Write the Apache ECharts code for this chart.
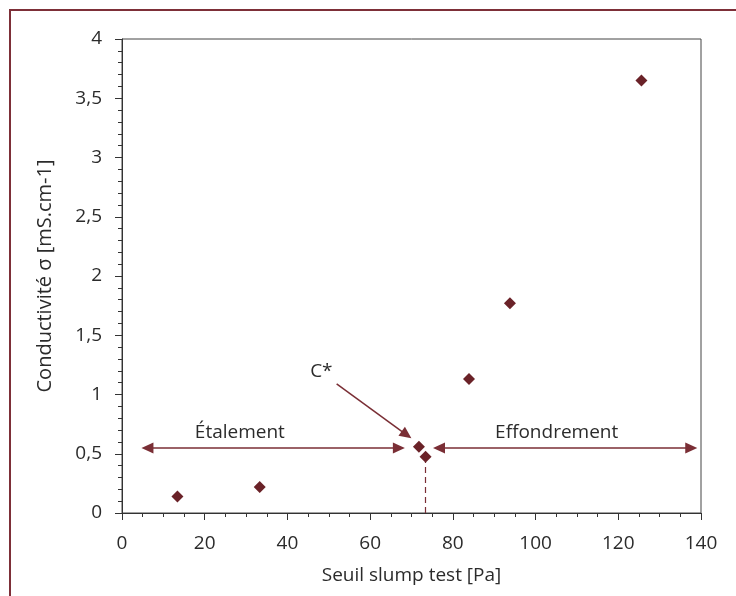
<!DOCTYPE html>
<html>
<head>
<meta charset="utf-8">
<script src="https://cdn.jsdelivr.net/npm/echarts@6/dist/echarts.min.js"></script>
<style>
  html, body { margin: 0; padding: 0; background: #fff; }
  #chart { width: 736px; height: 596px; }
</style>
</head>
<body>
<div id="chart"></div>
<script>
// Data points: Seuil slump test [Pa] vs Conductivité [mS.cm-1]
const seuilPa = [13.4, 33.3, 71.8, 73.4, 83.9, 93.8, 125.6];
const conductivite = [0.14, 0.22, 0.56, 0.475, 1.13, 1.77, 3.65];

// Axis ticks
const xTicks = [0, 20, 40, 60, 80, 100, 120, 140];
const yTicks = [0, 0.5, 1, 1.5, 2, 2.5, 3, 3.5, 4];

// Annotations (data coordinates)
const etalementArrow = [[6.15, 0.549], [66.95, 0.549]];
const effondrementArrow = [[76.65, 0.549], [137.65, 0.549]];
const cStarArrow = [[51.9, 1.089], [68.8, 0.66]];
const cStarDashed = [[73.4, 0], [73.4, 0.43]];
const annotationLabels = ['C*', 'Étalement', 'Effondrement'];
const annotationX = [48.2, 28.5, 105.1];
const annotationY = [1.192, 0.675, 0.675];

const maroon = '#6a2228';
const arrowColor = '#7a2e35';
const textColor = '#2b2b2b';
const fontFamily = '"Open Sans", "DejaVu Sans", sans-serif';

const chart = echarts.init(document.getElementById('chart'), null, { renderer: 'canvas' });

const fmt = v => String(v).replace('.', ',');

const option = {
  animation: false,
  backgroundColor: '#fff',
  textStyle: { fontFamily: fontFamily, color: textColor },
  graphic: [
    { type: 'polyline', shape: { points: [[10, 596], [10, 10], [736, 10]] },
      style: { stroke: '#7d2f38', lineWidth: 2, fill: null }, silent: true }
  ],
  grid: {
    left: 122, right: 35, top: 39, bottom: 83,
    show: true, borderColor: '#444', borderWidth: 1, backgroundColor: 'transparent'
  },
  xAxis: {
    type: 'value',
    min: xTicks[0], max: xTicks[xTicks.length - 1], interval: xTicks[1] - xTicks[0],
    name: 'Seuil slump test [Pa]',
    nameLocation: 'middle', nameGap: 53,
    nameTextStyle: { fontFamily: fontFamily, fontSize: 19, color: textColor },
    axisLine: { show: true, lineStyle: { color: '#333', width: 1 } },
    axisTick: { show: true, inside: false, length: 7, lineStyle: { color: '#333' } },
    minorTick: { show: true, splitNumber: 4, length: 4, lineStyle: { color: '#333' } },
    splitLine: { show: false },
    axisLabel: { fontFamily: fontFamily, fontSize: 19, color: textColor, margin: 21, formatter: fmt }
  },
  yAxis: {
    type: 'value',
    min: yTicks[0], max: yTicks[yTicks.length - 1], interval: yTicks[1] - yTicks[0],
    name: 'Conductivité σ [mS.cm-1]',
    nameLocation: 'middle', nameGap: 67, nameRotate: 90,
    nameTextStyle: { fontFamily: fontFamily, fontSize: 20, color: textColor },
    axisLine: { show: true, lineStyle: { color: '#333', width: 1 } },
    axisTick: { show: true, inside: false, length: 7, lineStyle: { color: '#333' } },
    minorTick: { show: true, splitNumber: 5, length: 4, lineStyle: { color: '#333' } },
    splitLine: { show: false },
    axisLabel: { fontFamily: fontFamily, fontSize: 19, color: textColor, margin: 20, formatter: fmt }
  },
  series: [
    {
      type: 'scatter',
      name: 'mesures',
      symbol: 'diamond',
      symbolSize: [12, 12],
      itemStyle: { color: maroon, opacity: 1 },
      data: seuilPa.map((x, i) => [x, conductivite[i]]),
      z: 5,
      markLine: {
        silent: true,
        animation: false,
        label: { show: false },
        emphasis: { disabled: true },
        data: [
          [
            { coord: etalementArrow[0], symbol: 'triangle', symbolSize: [11, 12] },
            { coord: etalementArrow[1], symbol: 'triangle', symbolSize: [11, 12] }
          ],
          [
            { coord: effondrementArrow[0], symbol: 'triangle', symbolSize: [11, 12] },
            { coord: effondrementArrow[1], symbol: 'triangle', symbolSize: [11, 12] }
          ],
          [
            { coord: cStarArrow[0], symbol: 'none' },
            { coord: cStarArrow[1], symbol: 'triangle', symbolSize: [11, 12] }
          ],
          [
            { coord: cStarDashed[0], symbol: 'none', lineStyle: { type: [6, 4], width: 1.2 } },
            { coord: cStarDashed[1], symbol: 'none' }
          ]
        ],
        lineStyle: { color: arrowColor, width: 1.5, type: 'solid', opacity: 1 },
        itemStyle: { color: arrowColor, opacity: 1 }
      }
    },
    {
      type: 'scatter',
      name: 'annotations',
      symbolSize: 0,
      silent: true,
      itemStyle: { opacity: 1 },
      data: annotationLabels.map((t, i) => ({ name: t, value: [annotationX[i], annotationY[i]] })),
      label: {
        show: true,
        position: 'inside',
        formatter: p => p.name,
        fontFamily: fontFamily,
        fontSize: 19,
        color: textColor,
        opacity: 1
      }
    }
  ]
};

chart.setOption(option);
</script>
</body>
</html>
